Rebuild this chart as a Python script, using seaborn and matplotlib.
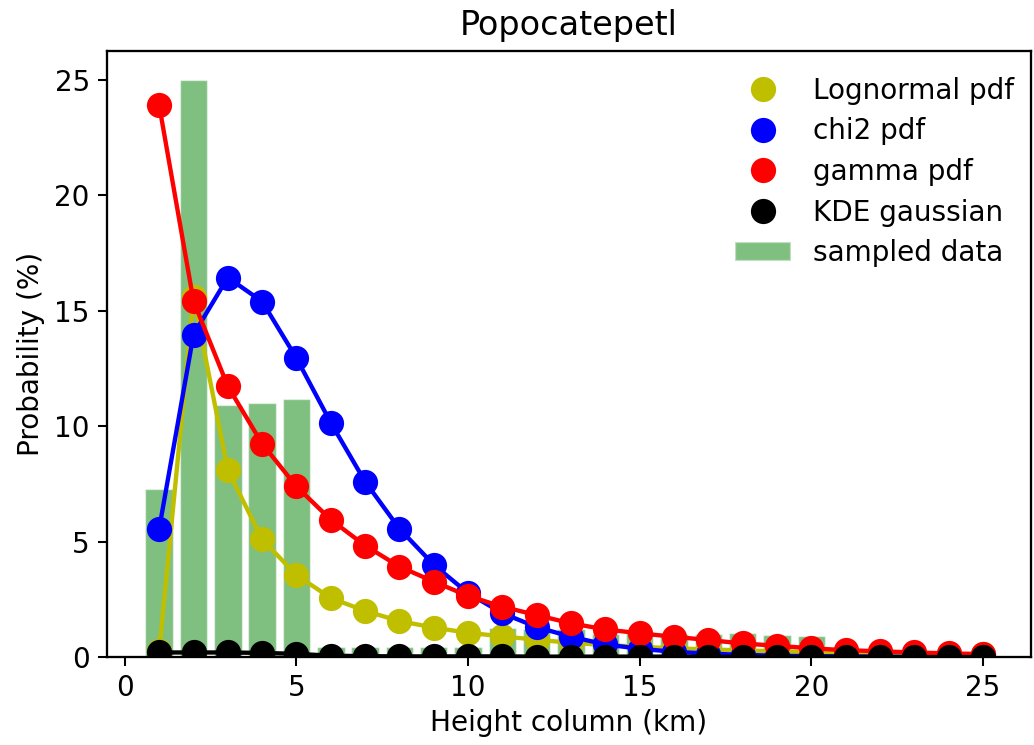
import numpy as np
import pandas as pd
import matplotlib
matplotlib.use("Agg")
import matplotlib.pyplot as plt
import seaborn as sns
from matplotlib.lines import Line2D
from matplotlib.patches import Patch

x = list(range(1, 26))
lognormal = [0.25, 15.6, 8.1, 5.1, 3.55, 2.56, 2.0, 1.56, 1.28, 1.05, 0.9, 0.75, 0.62,
             0.52, 0.45, 0.38, 0.33, 0.29, 0.25, 0.22, 0.19, 0.17, 0.15, 0.13, 0.12]
chi2 = [5.56, 13.97, 16.44, 15.4, 12.95, 10.15, 7.6, 5.56, 4.0, 2.77, 1.9, 1.3, 0.88,
        0.55, 0.36, 0.23, 0.15, 0.1, 0.06, 0.04, 0.03, 0.02, 0.01, 0.01, 0.0]
gamma = [23.9, 15.42, 11.73, 9.24, 7.39, 5.95, 4.83, 3.92, 3.27, 2.65, 2.18, 1.82, 1.46,
         1.2, 1.03, 0.88, 0.74, 0.59, 0.49, 0.38, 0.3, 0.25, 0.2, 0.16, 0.13]
kde = [0.2, 0.2, 0.2, 0.18, 0.14, 0.06, 0.04, 0.03, 0.03, 0.03, 0.03, 0.02, 0.02,
       0.02, 0.02, 0.02, 0.01, 0.01, 0.01, 0.01, 0.01, 0.0, 0.0, 0.0, 0.0]

bin_x = list(range(1, 21))
sampled = [7.3, 25.0, 10.9, 11.0, 11.2, 0.45, 0.45, 0.45, 0.45, 0.45,
           1.25, 1.2, 1.2, 1.0, 1.1, 1.0, 1.0, 1.05, 0.95, 0.93]

labels = ["Lognormal pdf", "chi2 pdf", "gamma pdf", "KDE gaussian", "sampled data"]

sns.set_theme(style="white")
plt.rcParams['font.family'] = ['DejaVu Sans']
plt.rcParams['text.color'] = 'black'
plt.rcParams['axes.labelcolor'] = 'black'
plt.rcParams['axes.edgecolor'] = 'black'
plt.rcParams['axes.linewidth'] = 1.0
plt.rcParams['xtick.bottom'] = True
plt.rcParams['ytick.left'] = True

dpi = 165
fig = plt.figure(figsize=(1034 / dpi, 745 / dpi), dpi=dpi)
ax = fig.add_axes([0.1035, 0.118, 0.8935, 0.8135])

ax.bar(bin_x, sampled, width=0.8, color='green', alpha=0.5, edgecolor='white',
       linewidth=0.6, zorder=1)

series = [(lognormal, '#bfbf00'), (chi2, '#0000ff'), (gamma, '#ff0000'), (kde, '#000000')]
for i, (vals, col) in enumerate(series):
    df = pd.DataFrame({"x": x, "y": vals})
    sns.lineplot(data=df, x="x", y="y", ax=ax, color=col, linewidth=1.9,
                 marker='o', markersize=11, markeredgewidth=0, zorder=2 + i,
                 legend=False)

ax.set_xlim(-0.52, 26.4)
ax.set_ylim(0, 26.25)
ax.set_xticks([0, 5, 10, 15, 20, 25])
ax.set_yticks([0, 5, 10, 15, 20, 25])
ax.tick_params(axis='both', labelsize=12.2, length=4, width=0.9, color='black',
               labelcolor='black')
ax.set_xlabel("Height column (km)", fontsize=12.2, color='black', labelpad=3)
ax.set_ylabel("Probability (%)", fontsize=12.2, color='black', labelpad=4)
ax.set_title("Popocatepetl", fontsize=14.6, color='black', pad=7)

handles = [Line2D([], [], linestyle='none', marker='o', markersize=11,
                  markeredgewidth=0, color=c) for _, c in series]
handles.append(Patch(facecolor='green', alpha=0.5, edgecolor='white'))
ax.legend(handles, labels, loc='upper right', bbox_to_anchor=(1.0, 0.985),
          frameon=False, fontsize=12.2, handlelength=2.0, labelspacing=0.45,
          borderaxespad=0.2)

fig.savefig("out.png", dpi=dpi)
